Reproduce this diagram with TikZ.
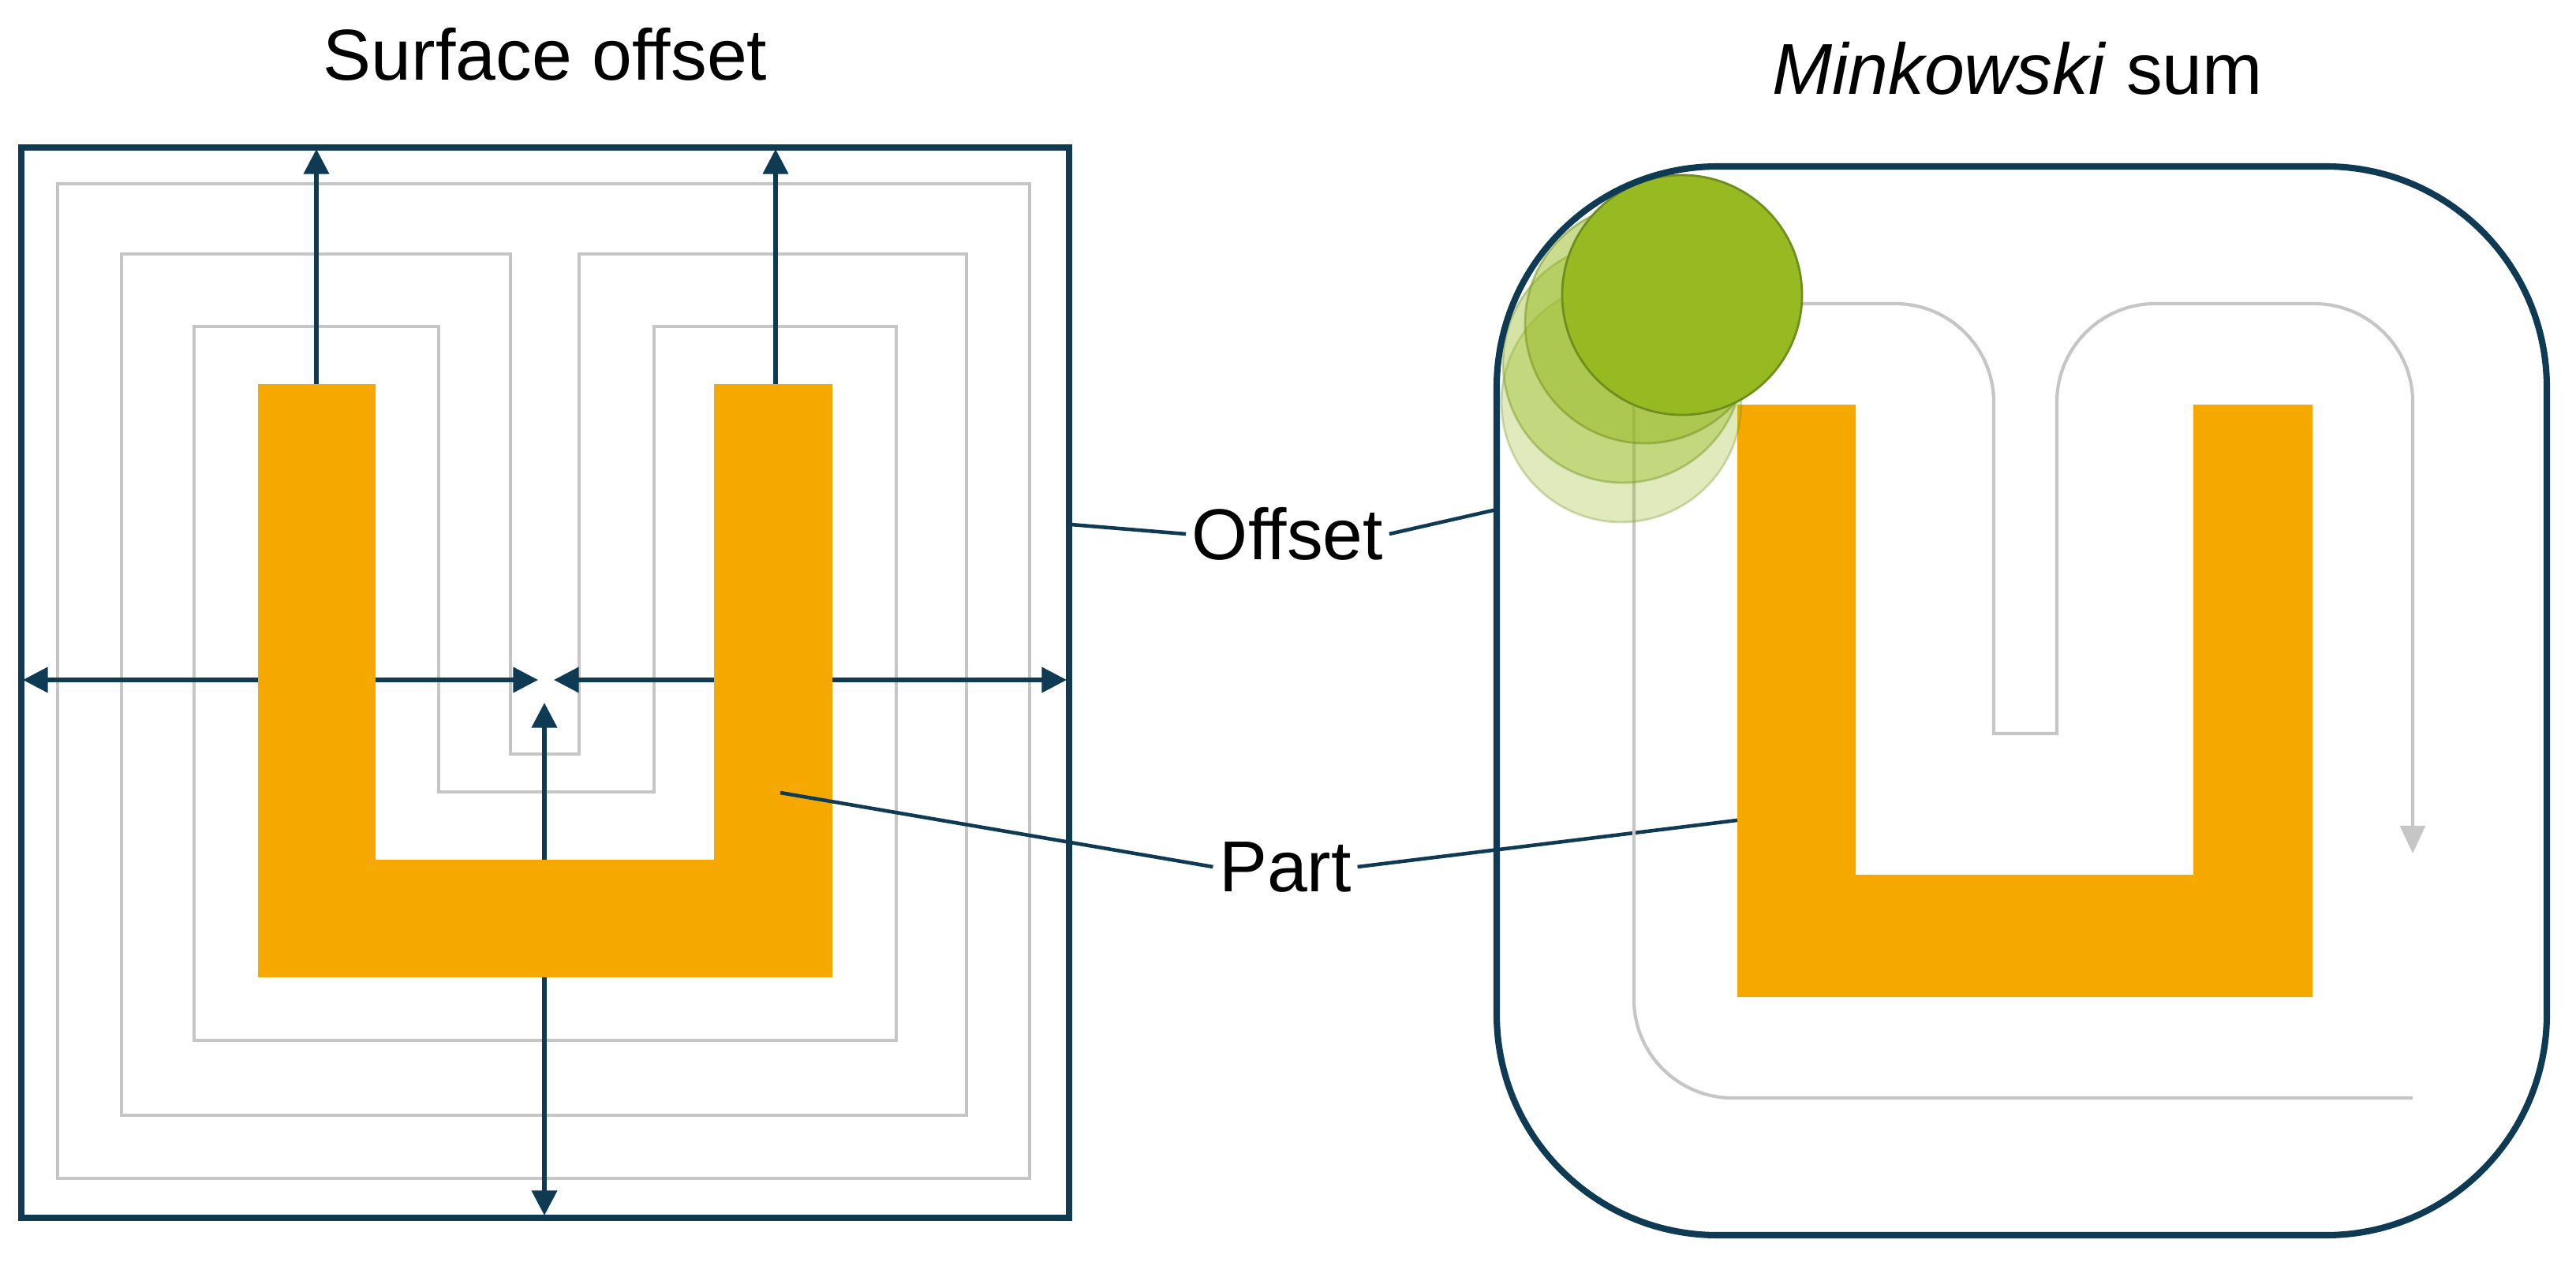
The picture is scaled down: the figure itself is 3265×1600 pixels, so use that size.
\documentclass[tikz,border=0pt]{standalone}
\usepackage{fontspec}
\setmainfont{Liberation Sans}
\usetikzlibrary{arrows.meta}
\definecolor{navy}{HTML}{0E3A53}
\definecolor{partorange}{HTML}{F5A800}
\definecolor{pathgray}{HTML}{C6C6C6}
\definecolor{ballgreen}{HTML}{97BA22}
\definecolor{ballrim}{HTML}{6E8E1E}
\tikzset{
  border/.style={draw=navy, line width=2.3pt},
  toolpath/.style={draw=pathgray, line width=1.2pt},
  part/.style={fill=partorange, draw=none},
  arrow/.style={navy, line width=1.5pt, -{Triangle[length=9pt, width=9pt]}},
  leader/.style={navy, line width=1.3pt},
  label/.style={font=\fontsize{26}{30}\selectfont, inner sep=2pt},
  ball/.style={fill=ballgreen, draw=ballrim, line width=0.8pt},
}

\begin{document}
\begin{tikzpicture}[x=0.01cm, y=-0.01cm]
  \useasboundingbox (0,0) rectangle (3265,1600);

  % left: surface offset
  \node[label] (titleleft) at (691,69) {Surface offset};
  \draw[toolpath] (73,233) rectangle (1305,1494);
  \draw[toolpath] (154,322) -- (647,322) -- (647,956) -- (734,956) -- (734,322)
    -- (1225,322) -- (1225,1414) -- (154,1414) -- cycle;
  \draw[toolpath] (246,414) -- (556,414) -- (556,1004) -- (829,1004) -- (829,414)
    -- (1136,414) -- (1136,1319) -- (246,1319) -- cycle;
  \fill[part] (327,487) -- (476,487) -- (476,1090) -- (905,1090) -- (905,487)
    -- (1055,487) -- (1055,1239) -- (327,1239) -- cycle;
  \draw[border] (27,187) rectangle (1355,1544);

  \draw[arrow] (401,487) -- (401,189);
  \draw[arrow] (983,487) -- (983,189);
  \draw[arrow] (327,862) -- (29,862);
  \draw[arrow] (476,862) -- (682,862);
  \draw[arrow] (905,862) -- (702,862);
  \draw[arrow] (1055,862) -- (1352,862);
  \draw[arrow] (690,1090) -- (690,891);
  \draw[arrow] (690,1239) -- (690,1541);

  % labels
  \node[label] (offset) at (1632,677) {Offset};
  \node[label] (part) at (1629,1099) {Part};
  \coordinate (offl) at (1357,665);
  \coordinate (offr) at (1897,646);
  \coordinate (partl) at (989,1005);
  \coordinate (partr) at (2226,1037);
  \draw[leader] (offl) -- (offset.west);
  \draw[leader] (offset.east) -- (offr);
  \draw[leader] (partl) -- (part.west);
  \draw[leader] (part.east) -- (partr);

  % right: minkowski sum
  \node[label] (titleright) at (2557,87) {\textit{Minkowski} sum};
  \fill[part] (2202,513) -- (2352,513) -- (2352,1109) -- (2780,1109) -- (2780,513)
    -- (2931,513) -- (2931,1264) -- (2202,1264) -- cycle;
  \draw[toolpath, -{Triangle[length=10pt, width=9pt]}] (3058,1392) -- (2196,1392)
    arc[start angle=270, end angle=180, radius=1.25cm] -- (2071,510)
    arc[start angle=180, end angle=90, radius=1.25cm] -- (2402,385)
    arc[start angle=90, end angle=0, radius=1.25cm] -- (2527,930) -- (2607,930) -- (2607,510)
    arc[start angle=180, end angle=90, radius=1.25cm] -- (2933,385)
    arc[start angle=90, end angle=0, radius=1.25cm] -- (3058,1082);
  \draw[ball, fill opacity=0.3, draw opacity=0.3] (2055,510) circle[radius=152];
  \draw[ball, fill opacity=0.4, draw opacity=0.4] (2057,460) circle[radius=152];
  \draw[ball, fill opacity=0.5, draw opacity=0.5] (2085,410) circle[radius=152];
  \draw[ball] (2132,374) circle[radius=152];
  \draw[border, rounded corners=2.8cm] (1897,211) rectangle (3228,1566);
\end{tikzpicture}
\end{document}
